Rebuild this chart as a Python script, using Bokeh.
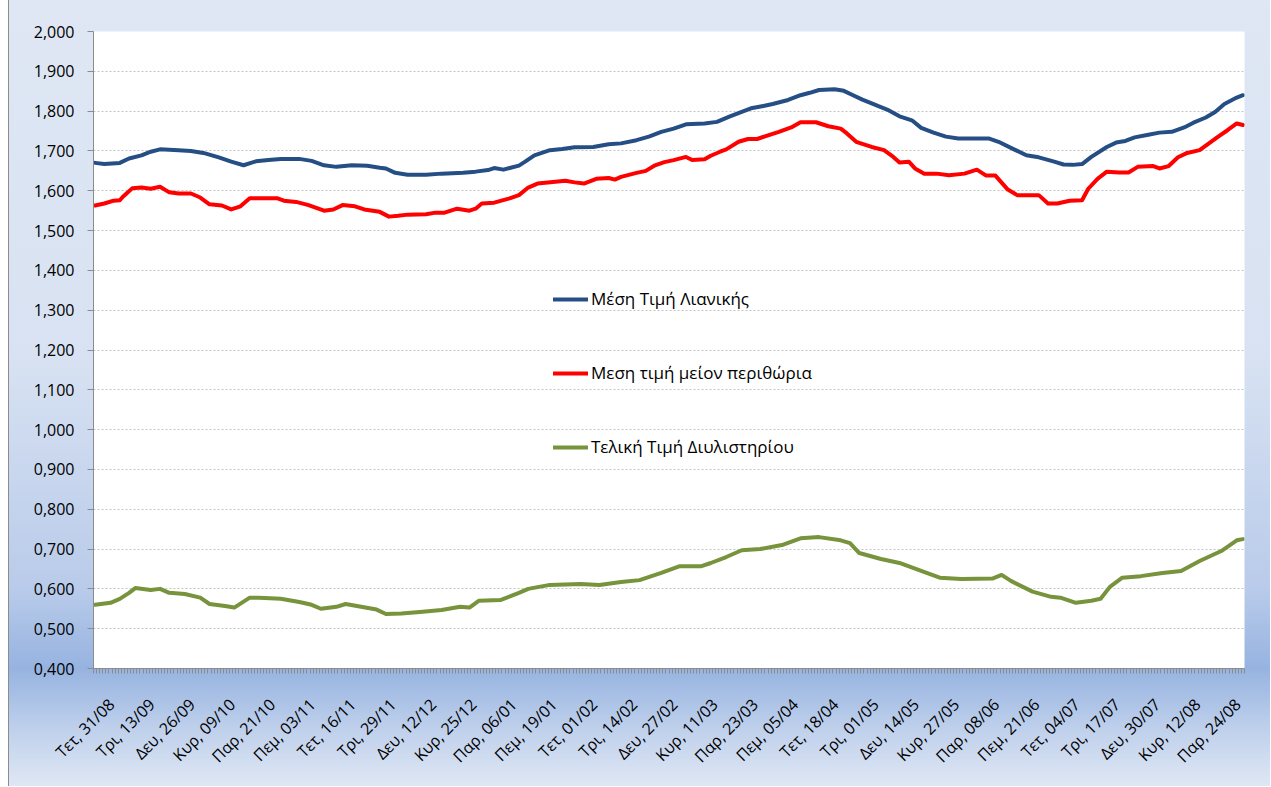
import math
from bokeh.plotting import figure
from bokeh.models import FixedTicker, CustomJSTickFormatter, Legend, LegendItem, Range1d
from bokeh.embed import file_html
from bokeh.resources import INLINE

# ---------------- data ----------------
n_categories = 372
label_step = 13
tick_labels = ["Τετ, 31/08", "Τρι, 13/09", "Δευ, 26/09", "Κυρ, 09/10", "Παρ, 21/10",
               "Πεμ, 03/11", "Τετ, 16/11", "Τρι, 29/11", "Δευ, 12/12", "Κυρ, 25/12",
               "Παρ, 06/01", "Πεμ, 19/01", "Τετ, 01/02", "Τρι, 14/02", "Δευ, 27/02",
               "Κυρ, 11/03", "Παρ, 23/03", "Πεμ, 05/04", "Τετ, 18/04", "Τρι, 01/05",
               "Δευ, 14/05", "Κυρ, 27/05", "Παρ, 08/06", "Πεμ, 21/06", "Τετ, 04/07",
               "Τρι, 17/07", "Δευ, 30/07", "Κυρ, 12/08", "Παρ, 24/08"]

retail_day = [0, 3, 8, 11, 15, 18, 21, 27, 31, 35, 40, 44, 48, 52, 56, 60, 66, 70, 74, 78,
              83, 88, 92, 94, 97, 101, 107, 112, 119, 123, 127, 129, 132, 134, 137, 139, 142,
              147, 151, 155, 161, 166, 170, 175, 179, 183, 187, 191, 197, 201, 205, 209, 212,
              216, 219, 224, 228, 231, 234, 239, 242, 245, 248, 253, 256, 260, 264, 267, 271,
              275, 279, 289, 292, 297, 301, 305, 310, 313, 316, 319, 322, 327, 330, 333, 336,
              340, 344, 348, 352, 355, 359, 362, 365, 369, 371]
retail_price = [1.670, 1.667, 1.670, 1.681, 1.689, 1.698, 1.704, 1.702, 1.700, 1.695, 1.684,
                1.673, 1.664, 1.674, 1.677, 1.680, 1.680, 1.675, 1.664, 1.660, 1.664, 1.663,
                1.658, 1.656, 1.645, 1.640, 1.640, 1.643, 1.645, 1.648, 1.652, 1.657, 1.653,
                1.657, 1.663, 1.673, 1.689, 1.702, 1.705, 1.709, 1.710, 1.717, 1.719, 1.727,
                1.736, 1.748, 1.756, 1.767, 1.769, 1.773, 1.786, 1.798, 1.807, 1.813, 1.818,
                1.828, 1.840, 1.846, 1.853, 1.855, 1.851, 1.840, 1.829, 1.813, 1.804, 1.787,
                1.777, 1.758, 1.746, 1.736, 1.731, 1.731, 1.723, 1.704, 1.689, 1.684, 1.673,
                1.666, 1.665, 1.667, 1.685, 1.710, 1.721, 1.725, 1.734, 1.740, 1.746, 1.748,
                1.759, 1.771, 1.784, 1.798, 1.818, 1.834, 1.840]

net_day = [0, 3, 6, 8, 9, 12, 15, 18, 21, 24, 27, 31, 34, 37, 41, 44, 47, 50, 55, 59, 61, 65,
           69, 74, 77, 80, 84, 87, 92, 95, 98, 101, 107, 110, 113, 117, 121, 123, 125, 129,
           134, 137, 140, 143, 148, 152, 155, 158, 162, 166, 168, 170, 175, 178, 181, 184,
           187, 191, 193, 197, 199, 202, 204, 208, 211, 214, 217, 221, 225, 228, 233, 237,
           241, 243, 246, 251, 255, 258, 260, 263, 265, 268, 272, 276, 281, 285, 288, 291,
           295, 298, 305, 308, 311, 315, 319, 321, 324, 327, 331, 334, 337, 342, 344, 347,
           350, 353, 357, 360, 363, 366, 369, 371]
net_price = [1.563, 1.568, 1.575, 1.576, 1.585, 1.606, 1.608, 1.605, 1.610, 1.596, 1.593,
             1.593, 1.583, 1.566, 1.563, 1.553, 1.561, 1.581, 1.581, 1.581, 1.575, 1.572,
             1.564, 1.550, 1.553, 1.564, 1.561, 1.553, 1.547, 1.535, 1.537, 1.540, 1.541,
             1.545, 1.545, 1.555, 1.550, 1.555, 1.568, 1.570, 1.581, 1.589, 1.608, 1.618,
             1.622, 1.625, 1.621, 1.618, 1.630, 1.632, 1.628, 1.635, 1.645, 1.650, 1.664,
             1.672, 1.677, 1.685, 1.677, 1.679, 1.688, 1.698, 1.704, 1.723, 1.730, 1.730,
             1.738, 1.748, 1.759, 1.772, 1.772, 1.762, 1.756, 1.744, 1.723, 1.710, 1.702,
             1.685, 1.671, 1.673, 1.656, 1.643, 1.643, 1.639, 1.643, 1.653, 1.638, 1.638,
             1.603, 1.589, 1.589, 1.568, 1.568, 1.575, 1.576, 1.605, 1.630, 1.648, 1.646,
             1.646, 1.660, 1.662, 1.656, 1.662, 1.684, 1.695, 1.702, 1.719, 1.736, 1.752,
             1.769, 1.765]

refinery_day = [0, 5, 8, 11, 13, 18, 21, 24, 29, 34, 37, 42, 45, 50, 53, 60, 66, 70, 73, 78,
                81, 86, 91, 94, 99, 105, 112, 118, 121, 124, 131, 137, 140, 147, 157, 163,
                170, 176, 183, 189, 196, 199, 204, 209, 215, 222, 228, 234, 241, 244, 247,
                254, 260, 267, 273, 280, 290, 293, 296, 303, 309, 312, 317, 322, 325, 328,
                332, 338, 345, 351, 357, 364, 369, 371]
refinery_price = [0.560, 0.565, 0.575, 0.590, 0.602, 0.597, 0.600, 0.590, 0.587, 0.578,
                  0.562, 0.557, 0.553, 0.578, 0.578, 0.575, 0.567, 0.560, 0.550, 0.555,
                  0.562, 0.555, 0.548, 0.537, 0.538, 0.542, 0.547, 0.555, 0.553, 0.570,
                  0.572, 0.590, 0.600, 0.610, 0.612, 0.610, 0.617, 0.622, 0.640, 0.657,
                  0.657, 0.665, 0.680, 0.697, 0.700, 0.710, 0.727, 0.730, 0.722, 0.715,
                  0.690, 0.675, 0.665, 0.645, 0.628, 0.625, 0.626, 0.635, 0.620, 0.593,
                  0.580, 0.578, 0.565, 0.570, 0.575, 0.605, 0.628, 0.632, 0.640, 0.645,
                  0.670, 0.695, 0.722, 0.725]

series_names = ["Μέση Τιμή Λιανικής", "Μεση τιμή μείον περιθώρια", "Τελική Τιμή Διυλιστηρίου"]

# ---------------- style ----------------
FONT = "Open Sans"
label_shift = 5.3  # horizontal shift of the category labels (in categories)

p = figure(frame_width=1151, frame_height=637, output_backend="svg", toolbar_location=None,
           x_range=Range1d(0, n_categories), y_range=Range1d(0.4, 2.0),
           min_border_left=93, min_border_top=31, min_border_right=26, min_border_bottom=118,
           background_fill_color="white", border_fill_color=None)
p.styles = {"background": "linear-gradient(to right, #ffffff 0px, #ffffff 8px, #8c8c8c 8px, "
                          "#8c8c8c 9px, rgba(0,0,0,0) 9px), "
                          "linear-gradient(to bottom, #dfe7f4 0%, #d8e2f2 45%, #b9cbea 75%, "
                          "#96b3e0 85%, #c0d1ec 93%, #dfe7f4 100%)"}
p.outline_line_color = None

colors = ["#254f84", "#ff0000", "#77933c"]
renderers = []
for d, v, c in ((retail_day, retail_price, colors[0]),
                (net_day, net_price, colors[1]),
                (refinery_day, refinery_price, colors[2])):
    r = p.line([x + 0.5 for x in d], v, line_color=c, line_width=4, line_join="round",
               line_cap="round")
    renderers.append(r)

# axes
major = [i * label_step + 0.5 + label_shift for i in range(len(tick_labels))]
p.xaxis.ticker = FixedTicker(ticks=major, minor_ticks=list(range(0, n_categories + 1)))
p.xaxis.formatter = CustomJSTickFormatter(
    args=dict(labels=tick_labels, step=label_step, shift=0.5 + label_shift),
    code="const i = Math.round((tick - shift) / step); return labels[i] || '';")
p.xaxis.major_label_orientation = math.pi / 4
p.xaxis.major_tick_line_color = None
p.xaxis.minor_tick_out = 5
p.xaxis.minor_tick_in = 0
p.xaxis.minor_tick_line_color = "#8c8c8c"
p.xaxis.axis_line_color = "#8c8c8c"
p.xaxis.major_label_text_font = FONT
p.xaxis.major_label_text_font_size = "16px"
p.xaxis.major_label_text_color = "black"
p.xaxis.major_label_standoff = 27

p.yaxis.ticker = FixedTicker(ticks=[0.4 + 0.1 * i for i in range(17)], minor_ticks=[])
p.yaxis.formatter = CustomJSTickFormatter(code="return tick.toFixed(3).replace('.', ',');")
p.yaxis.major_tick_out = 6
p.yaxis.major_tick_in = 0
p.yaxis.major_tick_line_color = "#8c8c8c"
p.yaxis.axis_line_color = "#8c8c8c"
p.yaxis.major_label_text_font = FONT
p.yaxis.major_label_text_font_size = "16px"
p.yaxis.major_label_text_color = "black"
p.yaxis.major_label_standoff = 13

p.xgrid.grid_line_color = None
p.ygrid.grid_line_color = "#c4c4c4"
p.ygrid.grid_line_dash = "2 2"
p.ygrid.grid_line_width = 1

legend = Legend(items=[LegendItem(label=n, renderers=[r]) for n, r in zip(series_names, renderers)],
                location=(460, 210), orientation="vertical",
                glyph_width=35, glyph_height=20, label_height=20, label_standoff=3,
                spacing=51, padding=0, margin=0,
                border_line_color=None, background_fill_alpha=0,
                label_text_font=FONT, label_text_font_size="17px", label_text_color="black")
p.add_layout(legend, "center")

open("out.html", "w").write(file_html(p, INLINE))
